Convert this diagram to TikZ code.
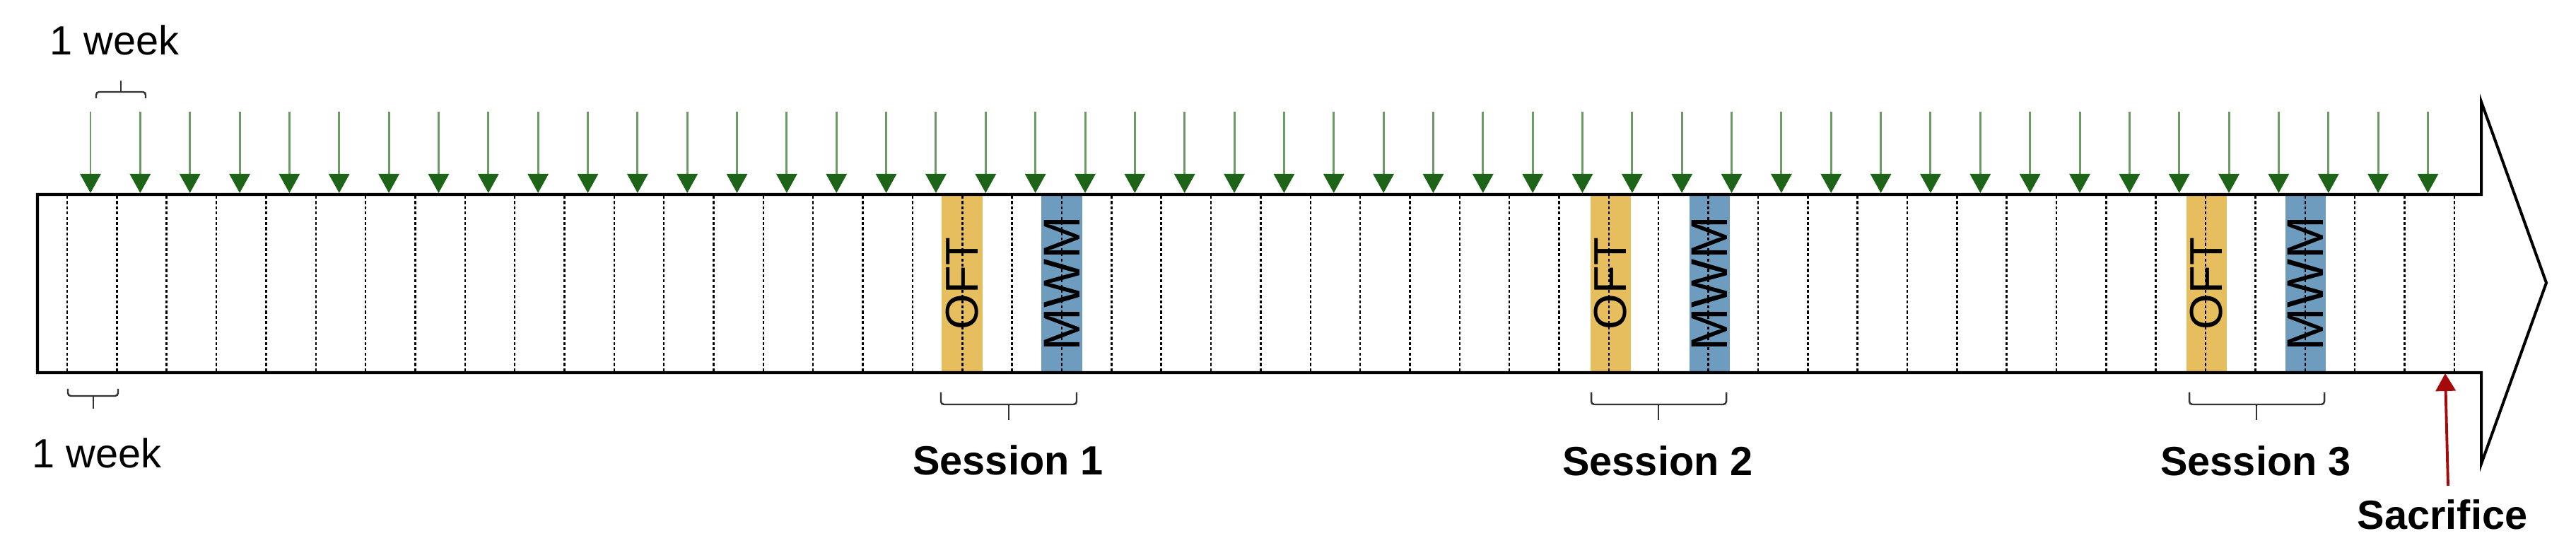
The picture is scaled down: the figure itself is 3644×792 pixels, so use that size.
\documentclass[tikz,border=0pt]{standalone}
\usepackage{fontspec}
\setmainfont{Liberation Sans}
\usetikzlibrary{arrows.meta}
\definecolor{oftc}{HTML}{E6BE5E}
\definecolor{mwmc}{HTML}{6E9CBE}
\definecolor{shaftg}{HTML}{6A9B62}
\definecolor{headg}{HTML}{1E6418}
\definecolor{redc}{HTML}{A50A0A}
\definecolor{brk}{HTML}{333333}
\begin{document}
\begin{tikzpicture}[x=0.01cm,y=-0.01cm,
  lbl/.style={font=\fontsize{16.4}{19}\selectfont, inner sep=0pt, anchor=base},
  slbl/.style={font=\bfseries\fontsize{16.4}{19}\selectfont, inner sep=0pt, anchor=base},
  gridline/.style={line width=0.7pt, dash pattern=on 1.2pt off 0.9pt},
  inj/.style={draw=shaftg, line width=0.85pt, -{Triangle[width=0.29cm,length=0.27cm,color=headg]}},
  sacarrow/.style={draw=redc, line width=1.1pt, -{Triangle[width=0.28cm,length=0.25cm,color=redc]}},
  brace/.style={draw=brk, line width=0.7pt, rounded corners=1.2pt},
  testbox/.style={minimum width=0.57cm, minimum height=2.48cm, inner sep=0pt, draw=none},
  ofttxt/.style={rotate=90, font=\fontsize{18.5}{20}\selectfont, inner sep=0pt},
  mwmtxt/.style={rotate=90, font=\fontsize{20.8}{22}\selectfont, inner sep=0pt},
  outline/.style={line width=1.15pt, line join=miter}
]
\useasboundingbox (0,0) rectangle (3644,792);

% test boxes
\node[testbox, fill=oftc] (oft1) at (1361,401) {};
\node[testbox, fill=mwmc] (mwm1) at (1502,401) {};
\node[testbox, fill=oftc] (oft2) at (2278,401) {};
\node[testbox, fill=mwmc] (mwm2) at (2418,401) {};
\node[testbox, fill=oftc] (oft3) at (3121,401) {};
\node[testbox, fill=mwmc] (mwm3) at (3261,401) {};

% weekly grid
\foreach \k in {0,...,48}
  \draw[gridline] ({95+\k*70.35},277) -- ({95+\k*70.35},525);

% timeline arrow outline
\draw[outline] (53,275) -- (3510,275) -- (3510,144) -- (3602,400) -- (3510,656) -- (3510,527) -- (53,527) -- cycle;

% test labels
\node[ofttxt] (toft1) at (oft1) {OFT};
\node[mwmtxt] (tmwm1) at (mwm1) {MWM};
\node[ofttxt] (toft2) at (oft2) {OFT};
\node[mwmtxt] (tmwm2) at (mwm2) {MWM};
\node[ofttxt] (toft3) at (oft3) {OFT};
\node[mwmtxt] (tmwm3) at (mwm3) {MWM};

% weekly injections
\foreach \i in {0,...,47} {
  \coordinate (t\i) at ({128+\i*70.35},158);
  \coordinate (b\i) at ({128+\i*70.35},273);
  \draw[inj] (t\i) -- (b\i);
}

% 1 week brackets
\draw[brace] (136,139) -- (136,130) -- (206,130) -- (206,139);
\draw[brace] (171,130) -- (171,114);
\node[lbl] (wk1) at (162,78) {1 week};

\draw[brace] (96,550) -- (96,560) -- (167,560) -- (167,550);
\draw[brace] (132,560) -- (132,578);
\node[lbl] (wk2) at (137,662) {1 week};

% session brackets
\draw[brace] (1331,555) -- (1331,572) -- (1523,572) -- (1523,555);
\draw[brace] (1427,572) -- (1427,594);
\node[slbl] (s1) at (1426,672) {Session 1};

\draw[brace] (2251,555) -- (2251,572) -- (2442,572) -- (2442,555);
\draw[brace] (2346,572) -- (2346,594);
\node[slbl] (s2) at (2345,673) {Session 2};

\draw[brace] (3097,555) -- (3097,572) -- (3288,572) -- (3288,555);
\draw[brace] (3192,572) -- (3192,594);
\node[slbl] (s3) at (3191,673) {Session 3};

% sacrifice
\coordinate (sacstart) at (3463,687);
\coordinate (sacend) at (3459,528);
\draw[sacarrow] (sacstart) -- (sacend);
\node[slbl] (sac) at (3455,749) {Sacrifice};
\end{tikzpicture}
\end{document}
